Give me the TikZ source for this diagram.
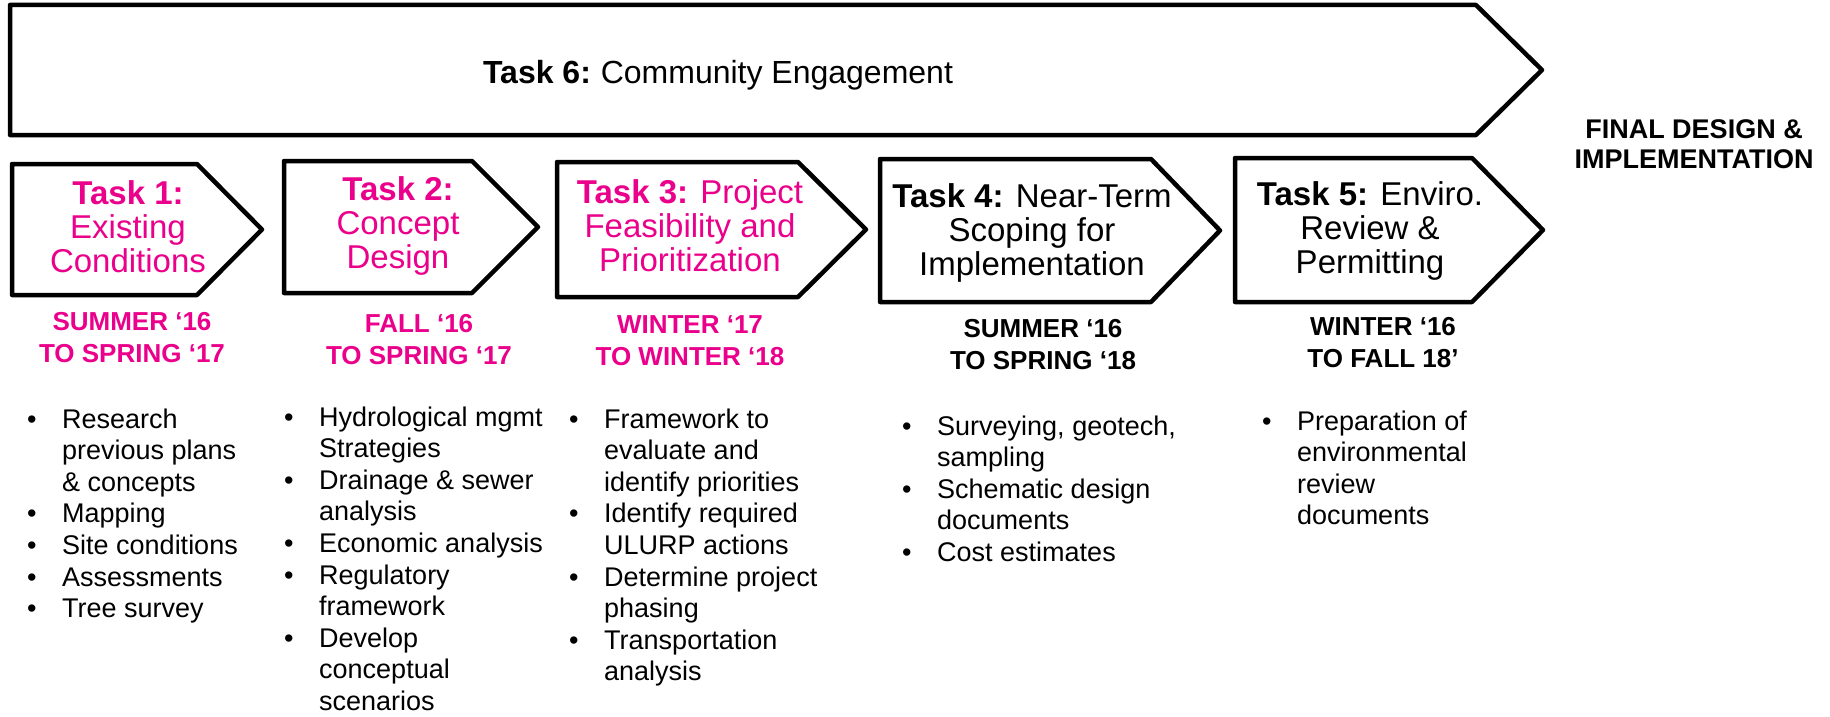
\documentclass[tikz,border=0pt]{standalone}
\usepackage{fontspec}
\setmainfont{Liberation Sans}
\definecolor{taskpink}{RGB}{234,0,139}
\newcommand{\lines}[1]{\begin{tabular}[t]{@{}c@{}}#1\end{tabular}}
\newcommand{\blist}[1]{\begin{tabular}[t]{@{}l@{}l@{}}#1\end{tabular}}
\newcommand{\bul}{\makebox[35pt][l]{\textbullet}}
\begin{document}
\begin{tikzpicture}[x=1pt, y=-1pt,
    chev/.style={draw=black, line width=4.5pt, line join=round},
    tasktext/.style={inner sep=0pt, anchor=base, font=\fontsize{33}{34}\selectfont},
    datetext/.style={inner sep=0pt, anchor=base, font=\fontsize{26}{32}\selectfont\bfseries},
    listtext/.style={inner sep=0pt, anchor=base west, font=\fontsize{27}{31.6}\selectfont}]
  \useasboundingbox (0,0) rectangle (1830,717);

  % task 6 runs along the top
  \draw[chev] (10,5) -- (1476,5) -- (1542,70) -- (1476,135) -- (10,135) -- cycle;
  \node[inner sep=0pt, anchor=base, font=\fontsize{32}{38}\selectfont] (t6) at (718,83) {\textbf{Task 6:}\hspace{-2pt} Community Engagement};
  \node[datetext, font=\fontsize{27}{30}\selectfont\bfseries] (fin) at (1694,138) {\lines{FINAL DESIGN \&\\IMPLEMENTATION}};

  % task chevrons
  \draw[chev] (12,164) -- (197,164) -- (262,229.5) -- (197,295) -- (12,295) -- cycle;
  \draw[chev] (284,161) -- (472,161) -- (538,227) -- (472,293) -- (284,293) -- cycle;
  \draw[chev] (557,162) -- (798,162) -- (866,229.5) -- (798,297) -- (557,297) -- cycle;
  \draw[chev] (880,159) -- (1151,159) -- (1220,230.5) -- (1151,302) -- (880,302) -- cycle;
  \draw[chev] (1235,158) -- (1472,158) -- (1543,230) -- (1472,302) -- (1235,302) -- cycle;

  \node[tasktext, text=taskpink] (t1) at (128,204) {\lines{\textbf{Task 1:}\\Existing\\Conditions}};
  \node[tasktext, text=taskpink] (t2) at (398,200) {\lines{\textbf{Task 2:}\\Concept\\Design}};
  \node[tasktext, text=taskpink] (t3) at (690,203) {\lines{\textbf{Task 3:} Project\\Feasibility and\\Prioritization}};
  \node[tasktext] (t4) at (1032,207) {\lines{\textbf{Task 4:} Near-Term\\Scoping for\\Implementation}};
  \node[tasktext] (t5) at (1370,205) {\lines{\textbf{Task 5:} Enviro.\\Review \&\\Permitting}};

  % dates
  \node[datetext, text=taskpink] (d1) at (132,330) {\lines{SUMMER ‘16\\TO SPRING ‘17}};
  \node[datetext, text=taskpink] (d2) at (419,332) {\lines{FALL ‘16\\TO SPRING ‘17}};
  \node[datetext, text=taskpink] (d3) at (690,333) {\lines{WINTER ‘17\\TO WINTER ‘18}};
  \node[datetext] (d4) at (1043,337) {\lines{SUMMER ‘16\\TO SPRING ‘18}};
  \node[datetext] (d5) at (1383,335) {\lines{WINTER ‘16\\TO FALL 18’}};

  % bullet lists
  \node[listtext] (l1) at (27,428) {\blist{\bul & Research\\ & previous plans\\ & \& concepts\\
    \bul & Mapping\\ \bul & Site conditions\\ \bul & Assessments\\ \bul & Tree survey}};
  \node[listtext] (l2) at (284,426) {\blist{\bul & Hydrological mgmt\\ & Strategies\\
    \bul & Drainage \& sewer\\ & analysis\\ \bul & Economic analysis\\
    \bul & Regulatory\\ & framework\\ \bul & Develop\\ & conceptual\\ & scenarios}};
  \node[listtext] (l3) at (569,428) {\blist{\bul & Framework to\\ & evaluate and\\ & identify priorities\\
    \bul & Identify required\\ & ULURP actions\\ \bul & Determine project\\ & phasing\\
    \bul & Transportation\\ & analysis}};
  \node[listtext] (l4) at (902,435) {\blist{\bul & Surveying, geotech,\\ & sampling\\
    \bul & Schematic design\\ & documents\\ \bul & Cost estimates}};
  \node[listtext] (l5) at (1262,430) {\blist{\bul & Preparation of\\ & environmental\\ & review\\ & documents}};
\end{tikzpicture}
\end{document}
